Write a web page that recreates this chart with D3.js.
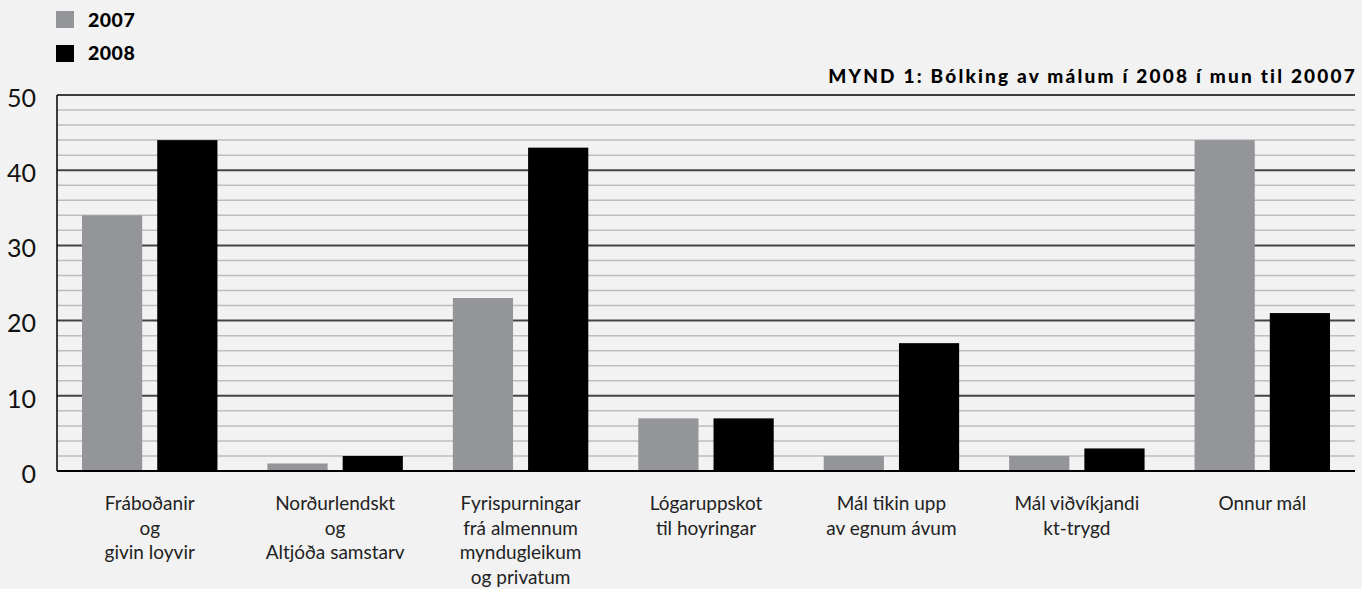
<!DOCTYPE html>
<html>
<head>
<meta charset="utf-8">
<script src="https://cdn.jsdelivr.net/npm/d3@7"></script>
<style>
  body { margin: 0; background: #f2f2f2; }
  svg { display: block; font-family: "Lato", "Open Sans", sans-serif; }
</style>
</head>
<body>
<svg id="chart" width="1362" height="589"></svg>
<script>
var categories = [
  ["Fráboðanir", "og", "givin loyvir"],
  ["Norðurlendskt", "og", "Altjóða samstarv"],
  ["Fyrispurningar", "frá almennum", "myndugleikum", "og privatum"],
  ["Lógaruppskot", "til hoyringar"],
  ["Mál tikin upp", "av egnum ávum"],
  ["Mál viðvíkjandi", "kt-trygd"],
  ["Onnur mál"]
];
var years = ["2007", "2008"];
var values2007 = [34, 1, 23, 7, 2, 2, 44];
var values2008 = [44, 2, 43, 7, 17, 3, 21];
var yTicks = [0, 10, 20, 30, 40, 50];
var title = "MYND 1: Bólking av málum í 2008 í mun til 20007";

var colors = { "2007": "#939598", "2008": "#000000" };

var svg = d3.select("#chart");
var margin = { left: 57, right: 7, top: 95, bottom: 118 };
var width = +svg.attr("width") - margin.left - margin.right;
var height = +svg.attr("height") - margin.top - margin.bottom;

var g = svg.append("g").attr("transform", "translate(" + margin.left + "," + margin.top + ")");

var x = d3.scaleBand().domain(d3.range(categories.length)).range([0, width]).padding(0);
var x1 = d3.scaleBand().domain(years).range([25, x.bandwidth() - 25]).paddingInner(0.2);
var y = d3.scaleLinear().domain([0, 50]).range([height, 0]);

// minor grid every 2
var minor = d3.range(2, 50, 2).filter(function(d) { return d % 10 !== 0; });
g.selectAll(".minor").data(minor).enter().append("line")
  .attr("x1", 0).attr("x2", width)
  .attr("y1", function(d) { return y(d); }).attr("y2", function(d) { return y(d); })
  .attr("stroke", "#bdbdbd").attr("stroke-width", 1.5);

g.selectAll(".major").data([10, 20, 30, 40]).enter().append("line")
  .attr("x1", 0).attr("x2", width)
  .attr("y1", function(d) { return y(d); }).attr("y2", function(d) { return y(d); })
  .attr("stroke", "#444").attr("stroke-width", 2);

// bars
var rows = categories.map(function(c, i) {
  return { i: i, vals: [{ year: "2007", v: values2007[i] }, { year: "2008", v: values2008[i] }] };
});
var groups = g.selectAll(".grp").data(rows).enter().append("g")
  .attr("transform", function(d) { return "translate(" + x(d.i) + ",0)"; });
groups.selectAll("rect").data(function(d) { return d.vals; }).enter().append("rect")
  .attr("x", function(d) { return x1(d.year); })
  .attr("width", x1.bandwidth())
  .attr("y", function(d) { return y(d.v); })
  .attr("height", function(d) { return height - y(d.v); })
  .attr("fill", function(d) { return colors[d.year]; });

// frame lines
g.append("line").attr("x1", 0).attr("x2", width).attr("y1", 0).attr("y2", 0).attr("stroke", "#000").attr("stroke-width", 1.5);
g.append("line").attr("x1", 0).attr("x2", width).attr("y1", height).attr("y2", height).attr("stroke", "#000").attr("stroke-width", 2);
g.append("line").attr("x1", 0).attr("x2", 0).attr("y1", 0).attr("y2", height).attr("stroke", "#000").attr("stroke-width", 1.5);

// y labels
g.selectAll(".ylab").data(yTicks).enter().append("text")
  .attr("x", -21).attr("y", function(d) { return y(d) + 3; })
  .attr("dy", "0.35em").attr("text-anchor", "end")
  .attr("font-size", 25).attr("fill", "#111")
  .text(function(d) { return d; });

// category labels
var cl = g.selectAll(".clab").data(categories).enter().append("text")
  .attr("text-anchor", "middle").attr("font-size", 19).attr("fill", "#222")
  .attr("transform", function(d, i) { return "translate(" + (x(i) + x.bandwidth() / 2) + "," + (height + 39) + ")"; });
cl.selectAll("tspan").data(function(d) { return d; }).enter().append("tspan")
  .attr("x", 0).attr("y", function(d, i) { return i * 24.5; })
  .text(function(d) { return d; });

// legend
var leg = svg.append("g").attr("transform", "translate(56,11)");
years.forEach(function(yr, i) {
  leg.append("rect").attr("x", 0).attr("y", i * 34).attr("width", 18).attr("height", 17).attr("fill", colors[yr]);
  leg.append("text").attr("x", 32).attr("y", i * 33 + 9).attr("dy", "0.35em")
    .attr("font-size", 19.5).attr("font-weight", 900).attr("letter-spacing", 0.5)
    .attr("fill", "#000").text(yr);
});

// title
svg.append("text").attr("x", margin.left + width + 2).attr("y", 83)
  .attr("text-anchor", "end").attr("font-size", 19).attr("font-weight", 900)
  .attr("letter-spacing", 2.2).attr("fill", "#000").text(title);
</script>
</body>
</html>
